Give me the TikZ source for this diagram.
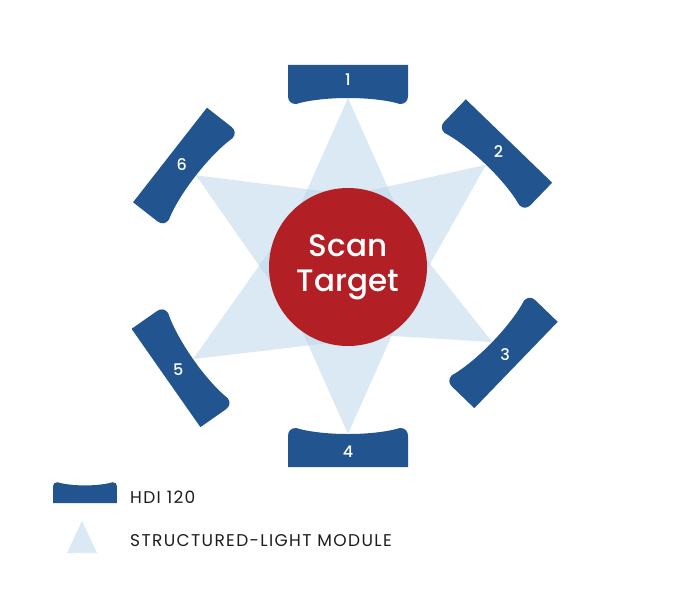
\documentclass[tikz,border=0pt]{standalone}
\usepackage{fontspec}
\setmainfont{Poppins}
\newfontfamily\targetfont{Poppins Medium}
\newfontfamily\legendfont{Poppins}[LetterSpace=8]
\usetikzlibrary{calc}
\definecolor{hdiblue}{RGB}{34,85,143}
\definecolor{targetred}{RGB}{178,31,37}
\definecolor{lightmod}{RGB}{188,215,234}
\definecolor{legendgray}{RGB}{30,28,30}
\tikzset{
  lightbeam/.style={fill=lightmod, fill opacity=0.55},
  scanlabel/.style={text=white, font=\targetfont\fontsize{16}{19}\selectfont, inner sep=0pt},
  legtext/.style={anchor=west, text=legendgray, font=\legendfont\fontsize{17}{20}\selectfont, inner sep=0pt},
  hdi120/.pic={
    \fill[hdiblue] (-60,0) -- (60,0) -- (60,31) .. controls (60,36) and (57,39) .. (52,39)
      .. controls (25,31) and (-25,31) .. (-52,39) .. controls (-57,39) and (-60,36) .. (-60,31) -- cycle;
  }
}

\begin{document}
\begin{tikzpicture}[x=1pt, y=-1pt]
  \useasboundingbox (0,0) rectangle (700,599);
  \coordinate (c) at (348,267);
  % scanners with their light modules
  \foreach \n/\x/\y/\a in {1/348/65/0, 2/509/141/-44, 3/516/365/-134, 4/348/467/180, 5/166/378/125, 6/170/155/52}{
    \coordinate (a\n) at ($(\x,\y)+(90-\a:33)$);
    \fill[lightbeam] (a\n) -- ($(a\n)!180pt!24:(c)$) -- ($(a\n)!180pt!-24:(c)$) -- cycle;
    \pic[rotate=\a] at (\x,\y) {hdi120};
    \node[scanlabel] (s\n) at ($(\x,\y)+(90-\a:15)$) {\n};
  }
  \node[circle, fill=targetred, minimum size=158pt, inner sep=0pt, text=white, align=center,
    font=\targetfont\fontsize{31}{35}\selectfont] (target) at (c) {Scan\\Target};
  % legend
  \pic[rotate=180, scale=0.533] at (85,503) {hdi120};
  \node[legtext] (leghdi) at (130,497) {HDI 120};
  \coordinate (lt) at (82,521);
  \fill[lightbeam] (lt) -- (97,553) -- (67,553) -- cycle;
  \node[legtext] (leglight) at (130,541) {STRUCTURED-LIGHT MODULE};
\end{tikzpicture}
\end{document}
